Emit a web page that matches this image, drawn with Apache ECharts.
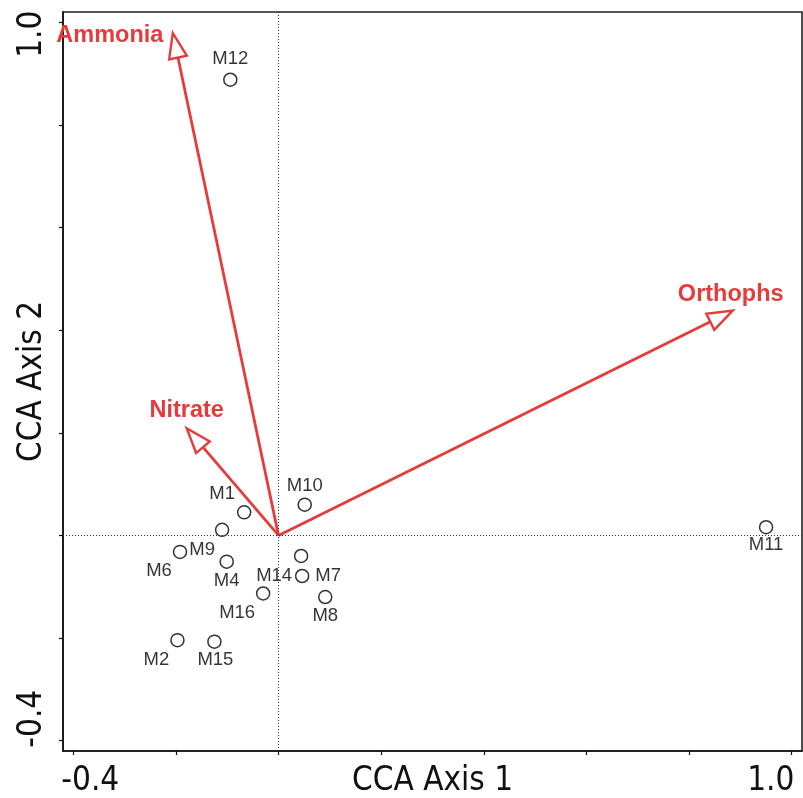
<!DOCTYPE html>
<html>
<head>
<meta charset="utf-8">
<script src="https://cdn.jsdelivr.net/npm/echarts@6/dist/echarts.min.js"></script>
<style>
  html, body { margin: 0; padding: 0; background: #fff; }
  #chart { width: 803px; height: 798px; }
</style>
</head>
<body>
<div id="chart"></div>
<script>
// site scores (CCA axis 1 / axis 2)
const siteNames = ['M1', 'M2', 'M4', 'M6', 'M7', 'M8', 'M9', 'M10', 'M11', 'M12', 'M14', 'M15', 'M16'];
const siteAxis1 = [-0.067, -0.197, -0.101, -0.192, 0.046, 0.091, -0.110, 0.051, 0.950, -0.094, 0.044, -0.125, -0.030];
const siteAxis2 = [0.045, -0.204, -0.051, -0.032, -0.079, -0.120, 0.011, 0.060, 0.016, 0.888, -0.040, -0.207, -0.113];

// environmental variable arrows (tip coordinates)
const envNames = ['Ammonia', 'Nitrate', 'Orthophs'];
const envAxis1 = [-0.206, -0.179, 0.885];
const envAxis2 = [0.979, 0.209, 0.438];

// ticks
const tickValues = [-0.4, -0.2, 0, 0.2, 0.4, 0.6, 0.8, 1.0];
const labelValues = [-0.4, 1.0];

// label placement (px, relative to the point)
const siteLabelOffset = {
  M1: [-22, -18], M2: [-21, 20], M4: [0, 19], M6: [-21, 19], M7: [26, 0],
  M8: [0, 19], M9: [-20, 20], M10: [0, -19], M11: [0, 18], M12: [0, -21],
  M14: [-27, 20], M15: [1, 18], M16: [-26, 19]
};
const envLabelOffset = {
  Ammonia: [-63, 2], Nitrate: [0, -18], Orthophs: [-2, -16]
};

const red = '#e63b3b';
const axisFont = "'Liberation Sans Narrow', 'DejaVu Sans Condensed', 'Liberation Sans', sans-serif";
const labelFont = "'Liberation Sans', Arial, sans-serif";
const bigSize = 33;

const chart = echarts.init(document.getElementById('chart'));

const isLow = v => Math.abs(v + 0.4) < 1e-6;

function axisBase() {
  return {
    type: 'value',
    min: -0.42,
    max: 1.02,
    nameLocation: 'middle',
    nameGap: 14,
    nameMoveOverlap: false,
    nameTextStyle: { fontSize: bigSize, fontFamily: axisFont, color: '#111' },
    axisLine: { show: true, onZero: false, lineStyle: { color: '#111', width: 1.6 } },
    axisTick: { show: true, length: 4, customValues: tickValues, lineStyle: { color: '#111', width: 1.2 } },
    splitLine: { show: false }
  };
}

const xAxis = Object.assign(axisBase(), {
  name: 'CCA Axis 1',
  axisLabel: {
    customValues: labelValues,
    margin: 14,
    color: '#111',
    fontSize: bigSize,
    fontFamily: axisFont,
    formatter: v => isLow(v) ? '{lo|-0.4}' : '{hi|1.0}',
    rich: {
      lo: { fontSize: bigSize, fontFamily: axisFont, color: '#111', padding: [0, 0, 0, 34] },
      hi: { fontSize: bigSize, fontFamily: axisFont, color: '#111', padding: [0, 42, 0, 0] }
    }
  }
});

const yAxis = Object.assign(axisBase(), {
  name: 'CCA Axis 2',
  axisLabel: {
    customValues: labelValues,
    margin: 14,
    rotate: 90,
    color: '#111',
    fontSize: bigSize,
    fontFamily: axisFont,
    formatter: v => isLow(v) ? '{lo|-0.4}' : '{hi|1.0}',
    rich: {
      lo: { fontSize: bigSize, fontFamily: axisFont, color: '#111', padding: [0, 0, 0, 44] },
      hi: { fontSize: bigSize, fontFamily: axisFont, color: '#111', padding: [0, 24, 0, 0] }
    }
  }
});

const siteData = siteNames.map((n, i) => ({
  name: n,
  value: [siteAxis1[i], siteAxis2[i]],
  label: { offset: siteLabelOffset[n] }
}));

const envData = envNames.map((n, i) => [envAxis1[i], envAxis2[i], i]);

function renderArrow(params, api) {
  const o = api.coord([0, 0]);
  const t = api.coord([api.value(0), api.value(1)]);
  const name = envNames[api.value(2)];
  const dx = t[0] - o[0], dy = t[1] - o[1];
  const len = Math.sqrt(dx * dx + dy * dy);
  const ux = dx / len, uy = dy / len;
  const headLen = 25, headHalf = 9;
  const bx = t[0] - ux * headLen, by = t[1] - uy * headLen;
  const px = -uy, py = ux;
  const off = envLabelOffset[name];
  return {
    type: 'group',
    children: [
      {
        type: 'line',
        shape: { x1: o[0], y1: o[1], x2: bx, y2: by },
        style: { stroke: red, lineWidth: 2.8 }
      },
      {
        type: 'polygon',
        shape: { points: [[t[0], t[1]], [bx + px * headHalf, by + py * headHalf], [bx - px * headHalf, by - py * headHalf]] },
        style: { fill: '#fff', stroke: red, lineWidth: 2.4 }
      },
      {
        type: 'text',
        style: {
          text: name,
          x: t[0] + off[0],
          y: t[1] + off[1],
          fill: red,
          fontSize: 23.5,
          fontWeight: 'bold',
          fontFamily: labelFont,
          align: 'center',
          verticalAlign: 'middle'
        }
      }
    ]
  };
}

chart.setOption({
  animation: false,
  backgroundColor: '#fff',
  grid: {
    left: 63,
    right: 1,
    top: 12,
    bottom: 47,
    containLabel: false,
    outerBoundsMode: 'none',
    show: true,
    borderColor: '#222',
    borderWidth: 1.6,
    backgroundColor: 'transparent'
  },
  xAxis: xAxis,
  yAxis: yAxis,
  series: [
    {
      type: 'scatter',
      symbol: 'circle',
      symbolSize: 13,
      z: 3,
      itemStyle: { color: '#fff', borderColor: '#000', borderWidth: 1.5 },
      label: {
        show: true,
        position: 'inside',
        formatter: '{b}',
        color: '#000',
        fontSize: 18.5,
        fontFamily: labelFont
      },
      data: siteData,
      markLine: {
        silent: true,
        symbol: 'none',
        label: { show: false },
        lineStyle: { color: '#333', width: 1, type: [1, 2] },
        data: [{ xAxis: 0 }, { yAxis: 0 }]
      }
    },
    {
      type: 'custom',
      z: 4,
      renderItem: renderArrow,
      data: envData
    }
  ]
});
</script>
</body>
</html>
